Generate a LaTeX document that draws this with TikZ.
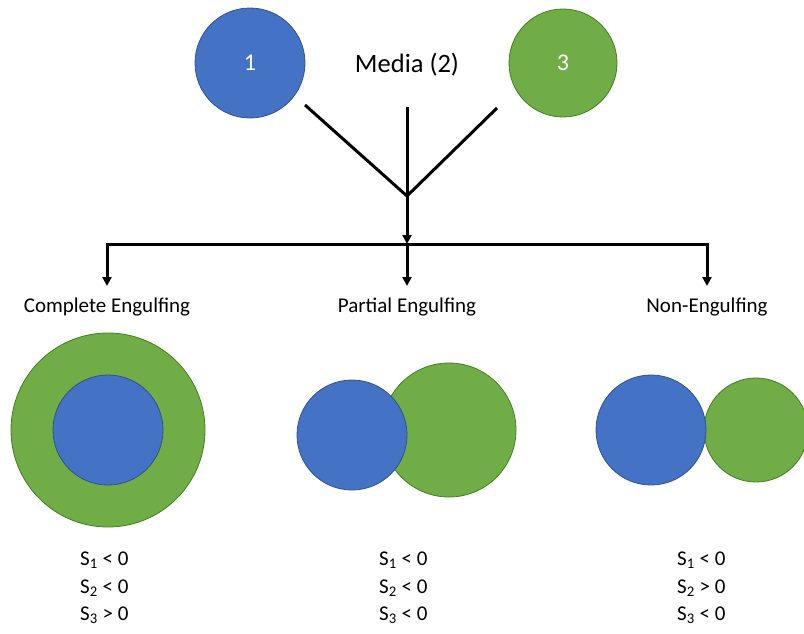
\documentclass[tikz,border=0pt]{standalone}
\usepackage{fontspec}
\setmainfont{Carlito}
\usetikzlibrary{arrows.meta}
\definecolor{cblue}{HTML}{4472C4}
\definecolor{cbluedark}{HTML}{2F528F}
\definecolor{cgreen}{HTML}{70AD47}
\definecolor{cgreendark}{HTML}{3F7F1F}
\tikzset{
  bluecirc/.style={circle, fill=cblue, draw=cbluedark, line width=0.8pt, inner sep=0pt, text=white, font=\fontsize{24}{28}\selectfont},
  greencirc/.style={circle, fill=cgreen, draw=cgreendark, line width=0.8pt, inner sep=0pt, text=white, font=\fontsize{24}{28}\selectfont},
  conn/.style={line width=3pt, black},
  arr/.style={conn, -{Triangle[length=9pt,width=9pt]}},
  lbl/.style={font=\fontsize{21}{24}\selectfont, inner sep=0pt},
  cond/.style={font=\fontsize{21}{27.5}\selectfont, align=left, inner sep=0pt, anchor=north west}
}
\begin{document}
\begin{tikzpicture}[x=1pt,y=-1pt]
\useasboundingbox (0,0) rectangle (804,633);
\node[bluecirc, minimum size=110pt] (c1) at (250,63) {1};
\node[greencirc, minimum size=108pt] (c3) at (563,63) {3};
\node[font=\fontsize{26.5}{30}\selectfont, inner sep=0pt] (media) at (407,65) {Media (2)};
\coordinate (dl) at (305,105);
\coordinate (dr) at (497,108);
\coordinate (dm) at (407,107);
\coordinate (j) at (407,196);
\coordinate (h) at (407,244);
\coordinate (hl) at (107,244);
\coordinate (hr) at (707,244);
\draw[conn] (dl) -- (j) -- (dr);
\draw[arr] (dm) -- (h);
\draw[conn, line cap=rect] (hl) -- (hr);
\node[lbl] (t1) at (107,307) {Complete Engulfing};
\node[lbl] (t2) at (407,307) {Partial Engulfing};
\node[lbl] (t3) at (707,307) {Non-Engulfing};
\draw[arr] (hl) -- (t1.north |- 0,286);
\draw[arr] (h) -- (t2.north |- 0,286);
\draw[arr] (hr) -- (t3.north |- 0,286);
% complete engulfing
\node[greencirc, minimum size=194pt] (ce3) at (108,430) {};
\node[bluecirc, minimum size=110pt] (ce1) at (108,430) {};
% partial engulfing
\node[greencirc, minimum size=134pt] (pe3) at (449,430) {};
\node[bluecirc, minimum size=110pt] (pe1) at (352,435) {};
% non engulfing
\node[greencirc, minimum size=104pt] (ne3) at (756,430) {};
\node[bluecirc, minimum size=110pt] (ne1) at (651,430) {};
% conditions
\node[cond] (s1) at (80,552) {S\textsubscript{1} < 0\\S\textsubscript{2} < 0\\S\textsubscript{3} > 0};
\node[cond] (s2) at (379,552) {S\textsubscript{1} < 0\\S\textsubscript{2} < 0\\S\textsubscript{3} < 0};
\node[cond] (s3) at (677,552) {S\textsubscript{1} < 0\\S\textsubscript{2} > 0\\S\textsubscript{3} < 0};
\end{tikzpicture}
\end{document}
